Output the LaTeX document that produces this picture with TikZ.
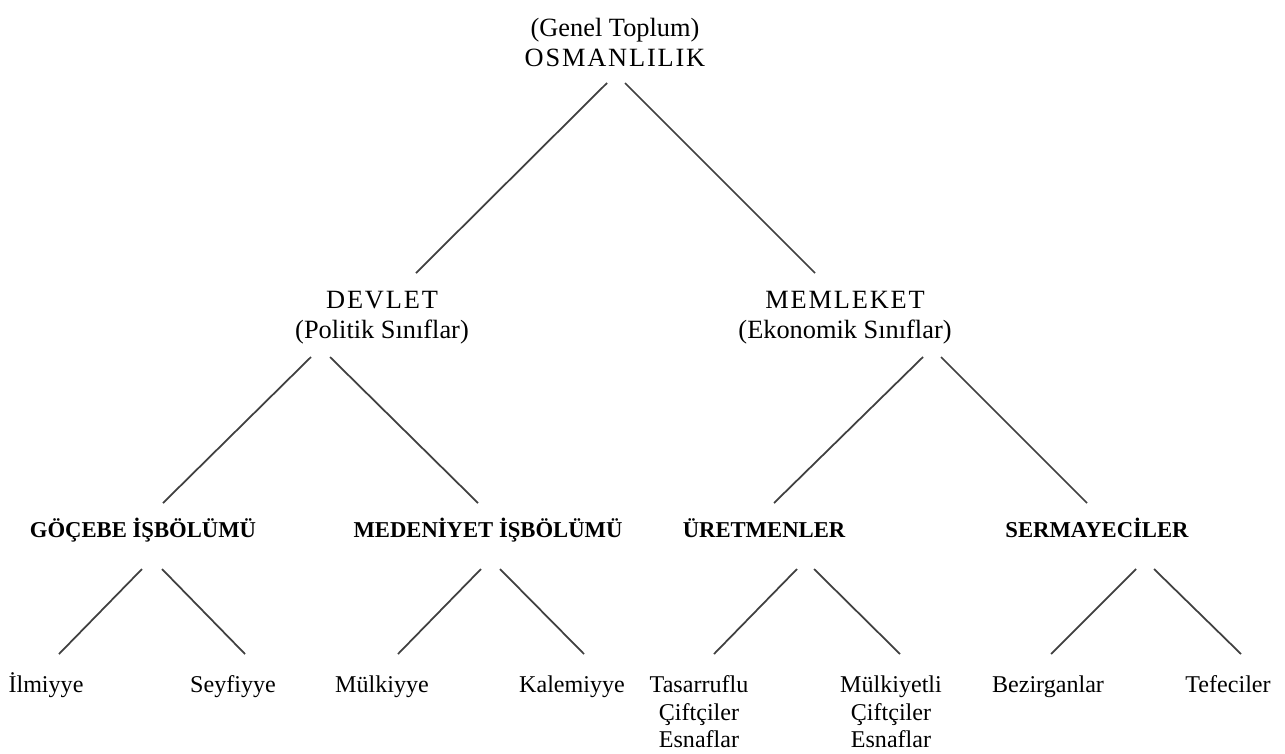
\documentclass[tikz,border=0pt]{standalone}
\usepackage{fontspec}
\setmainfont{Liberation Serif}
\newfontfamily\wideserif[LetterSpace=7]{Liberation Serif}
\usetikzlibrary{positioning,calc}

\begin{document}
\begin{tikzpicture}[on grid,
 cls/.style={align=center, inner sep=0pt, font=\fontsize{15}{17}\selectfont},
 grp/.style={inner sep=0pt, text height=9pt, text depth=2.84pt, font=\bfseries\fontsize{12.9}{15}\selectfont},
 leaf/.style={inner sep=0pt, text height=9.6pt, text depth=3pt, font=\fontsize{13.7}{15.6}\selectfont},
 leaves/.style={align=center, inner sep=0pt, font=\fontsize{13.7}{15.6}\selectfont},
 branch/.style={draw=black!75, line width=1pt}]
 \useasboundingbox (0,0) rectangle (25.7,-15.06);
 \node [cls, font=\fontsize{15}{17.5}\selectfont] (osm) at (12.3,-0.85) {(Genel Toplum)\\{\wideserif OSMANLILIK}};
 \node [cls, below left=5.51cm and 4.66cm of osm] (devlet) {{\wideserif DEVLET}\\(Politik Sınıflar)};
 \node [cls, below right=5.51cm and 4.6cm of osm] (memleket) {{\wideserif MEMLEKET}\\(Ekonomik Sınıflar)};
 \node [grp, below left=4.28cm and 4.78cm of devlet] (gocebe) {GÖÇEBE İŞBÖLÜMÜ};
 \node [grp, below right=4.28cm and 2.12cm of devlet] (medeniyet) {MEDENİYET İŞBÖLÜMÜ};
 \node [grp, below left=4.28cm and 1.62cm of memleket] (uret) {ÜRETMENLER};
 \node [grp, below right=4.28cm and 5.04cm of memleket] (serm) {SERMAYECİLER};
 \node [leaf, below left=3.1cm and 1.94cm of gocebe] (ilm) {İlmiyye};
 \node [leaf, below right=3.1cm and 1.8cm of gocebe] (seyf) {Seyfiyye};
 \node [leaf, below left=3.1cm and 2.12cm of medeniyet] (mulk) {Mülkiyye};
 \node [leaf, below right=3.1cm and 1.68cm of medeniyet] (kalem) {Kalemiyye};
 \node [leaves, below left=3.6cm and 1.3cm of uret] (tas) {Tasarruflu\\Çiftçiler\\Esnaflar};
 \node [leaves, below right=3.6cm and 2.54cm of uret] (mulkc) {Mülkiyetli\\Çiftçiler\\Esnaflar};
 \node [leaf, below left=3.1cm and 0.98cm of serm] (bez) {Bezirganlar};
 \node [leaf, below right=3.1cm and 2.62cm of serm] (tef) {Tefeciler};
 \draw [branch] ($(osm)+(-0.16,-0.81)$) -- ($(devlet)+(0.68,0.9)$);
 \draw [branch] ($(osm)+(0.2,-0.81)$) -- ($(memleket)+(-0.6,0.9)$);
 \draw [branch] ($(devlet)+(-1.42,-0.78)$) -- ($(gocebe)+(0.4,0.58)$);
 \draw [branch] ($(devlet)+(-1.04,-0.78)$) -- ($(medeniyet)+(-0.2,0.58)$);
 \draw [branch] ($(memleket)+(1.56,-0.78)$) -- ($(uret)+(0.2,0.58)$);
 \draw [branch] ($(memleket)+(1.92,-0.78)$) -- ($(serm)+(-0.2,0.58)$);
 \draw [branch] ($(gocebe)+(-0.02,-0.74)$) -- ($(ilm)+(0.26,0.66)$);
 \draw [branch] ($(gocebe)+(0.38,-0.74)$) -- ($(seyf)+(0.24,0.66)$);
 \draw [branch] ($(medeniyet)+(-0.14,-0.74)$) -- ($(mulk)+(0.32,0.66)$);
 \draw [branch] ($(medeniyet)+(0.24,-0.74)$) -- ($(kalem)+(0.24,0.66)$);
 \draw [branch] ($(uret)+(0.66,-0.74)$) -- ($(tas)+(0.3,1.16)$);
 \draw [branch] ($(uret)+(1.0,-0.74)$) -- ($(mulkc)+(0.18,1.16)$);
 \draw [branch] ($(serm)+(0.78,-0.74)$) -- ($(bez)+(0.06,0.66)$);
 \draw [branch] ($(serm)+(1.14,-0.74)$) -- ($(tef)+(0.26,0.66)$);
\end{tikzpicture}
\end{document}
